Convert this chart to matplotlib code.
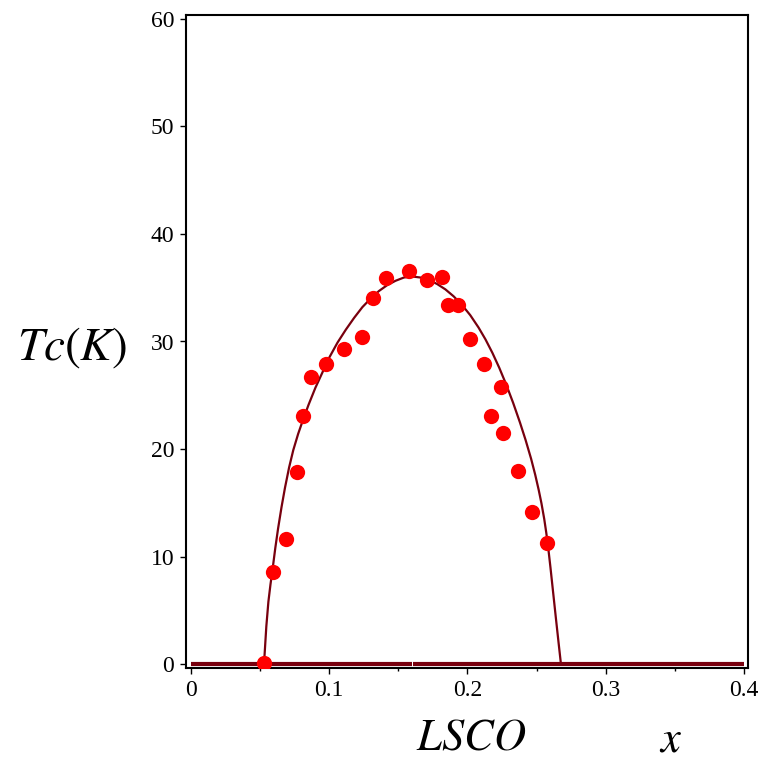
import numpy as np
import matplotlib
matplotlib.use('Agg')
import matplotlib.pyplot as plt

# LSCO Tc(x) data points
x_data = [0.0528, 0.0593, 0.0687, 0.0767, 0.0810, 0.0868, 0.0980, 0.1110,
          0.1235, 0.1320, 0.1410, 0.1580, 0.1705, 0.1816, 0.1857, 0.1934,
          0.2021, 0.2120, 0.2170, 0.2244, 0.2254, 0.2364, 0.2468, 0.2574]
tc_data = [0.1, 8.6, 11.6, 17.9, 23.1, 26.7, 27.9, 29.3,
           30.4, 34.0, 35.9, 36.6, 35.7, 36.0, 33.4, 33.4,
           30.2, 27.9, 23.1, 25.8, 21.5, 18.0, 14.1, 11.3]

# fitted dome curve, sampled off the figure
x_fit = [0.0528, 0.0533, 0.0545, 0.0560, 0.0575, 0.0590, 0.0610, 0.0630,
         0.0655, 0.0680, 0.0710, 0.0740, 0.0775, 0.0810, 0.0850, 0.0900,
         0.0950, 0.1000, 0.1060, 0.1120, 0.1180, 0.1240, 0.1300, 0.1360,
         0.1420, 0.1480, 0.1540, 0.1600, 0.1660, 0.1720, 0.1780, 0.1840,
         0.1900, 0.1960, 0.2020, 0.2080, 0.2130, 0.2180, 0.2230, 0.2280,
         0.2330, 0.2380, 0.2420, 0.2460, 0.2490, 0.2515, 0.2535, 0.2555,
         0.2570, 0.2585, 0.2600, 0.2620, 0.2640, 0.2660, 0.2676]
tc_fit = [0.0, 1.0, 3.5, 5.8, 7.4, 8.8, 10.8, 12.6,
          14.6, 16.4, 18.3, 19.9, 21.4, 22.7, 24.1, 25.7,
          27.1, 28.5, 29.9, 31.1, 32.2, 33.2, 34.0, 34.7,
          35.25, 35.65, 35.95, 36.05, 35.95, 35.72, 35.35, 34.85,
          34.2, 33.4, 32.45, 31.3, 30.2, 28.95, 27.55, 26.0,
          24.3, 22.45, 20.85, 19.1, 17.6, 16.2, 14.95, 13.5,
          12.2, 10.7, 9.0, 6.6, 4.2, 1.85, 0.0]

# zero baseline (drawn in two pieces, as in the original)
x_base = [[0.0, 0.1596], [0.1603, 0.4]]

x_ticks = [0, 0.1, 0.2, 0.3, 0.4]
x_minor = [0.05, 0.15, 0.25, 0.35]
y_ticks = [0, 10, 20, 30, 40, 50, 60]

MAPLE_RED = '#78000E'

plt.rcParams['mathtext.fontset'] = 'stix'
plt.rcParams['font.family'] = ['Liberation Serif', 'DejaVu Serif']

fig = plt.figure(figsize=(7.66, 7.61), dpi=100)
ax = fig.add_axes([186 / 766, 93 / 761, 562 / 766, 653 / 761])

for seg in x_base:
    ax.plot(seg, [0, 0], color=MAPLE_RED, lw=3.0, solid_capstyle='butt', zorder=2)
ax.plot(x_fit, tc_fit, color=MAPLE_RED, lw=1.6, zorder=3)
ax.plot(x_data, tc_data, 'o', color='#FF0000', markersize=11, markeredgewidth=0, zorder=4)

ax.set_xlim(-0.0036, 0.4029)
ax.set_ylim(-0.37, 60.37)
ax.set_xticks(x_ticks)
ax.set_xticklabels(['0', '0.1', '0.2', '0.3', '0.4'])
ax.set_xticks(x_minor, minor=True)
ax.set_yticks(y_ticks)
ax.tick_params(axis='both', which='major', direction='out', length=4.5, width=1.0,
               labelsize=17, pad=4)
ax.tick_params(axis='x', which='minor', direction='out', length=2.5, width=1.0)
for sp in ax.spines.values():
    sp.set_linewidth(1.5)

fig.text(72 / 766, 1 - 348 / 761, r'$Tc(K)$', fontsize=34, ha='center', va='center')
fig.text(471 / 766, 1 - 738 / 761, r'$LSCO$', fontsize=32, ha='center', va='center')
fig.text(671 / 766, 1 - 740 / 761, r'$x$', fontsize=32, ha='center', va='center')

fig.savefig('out.png', dpi=100)
